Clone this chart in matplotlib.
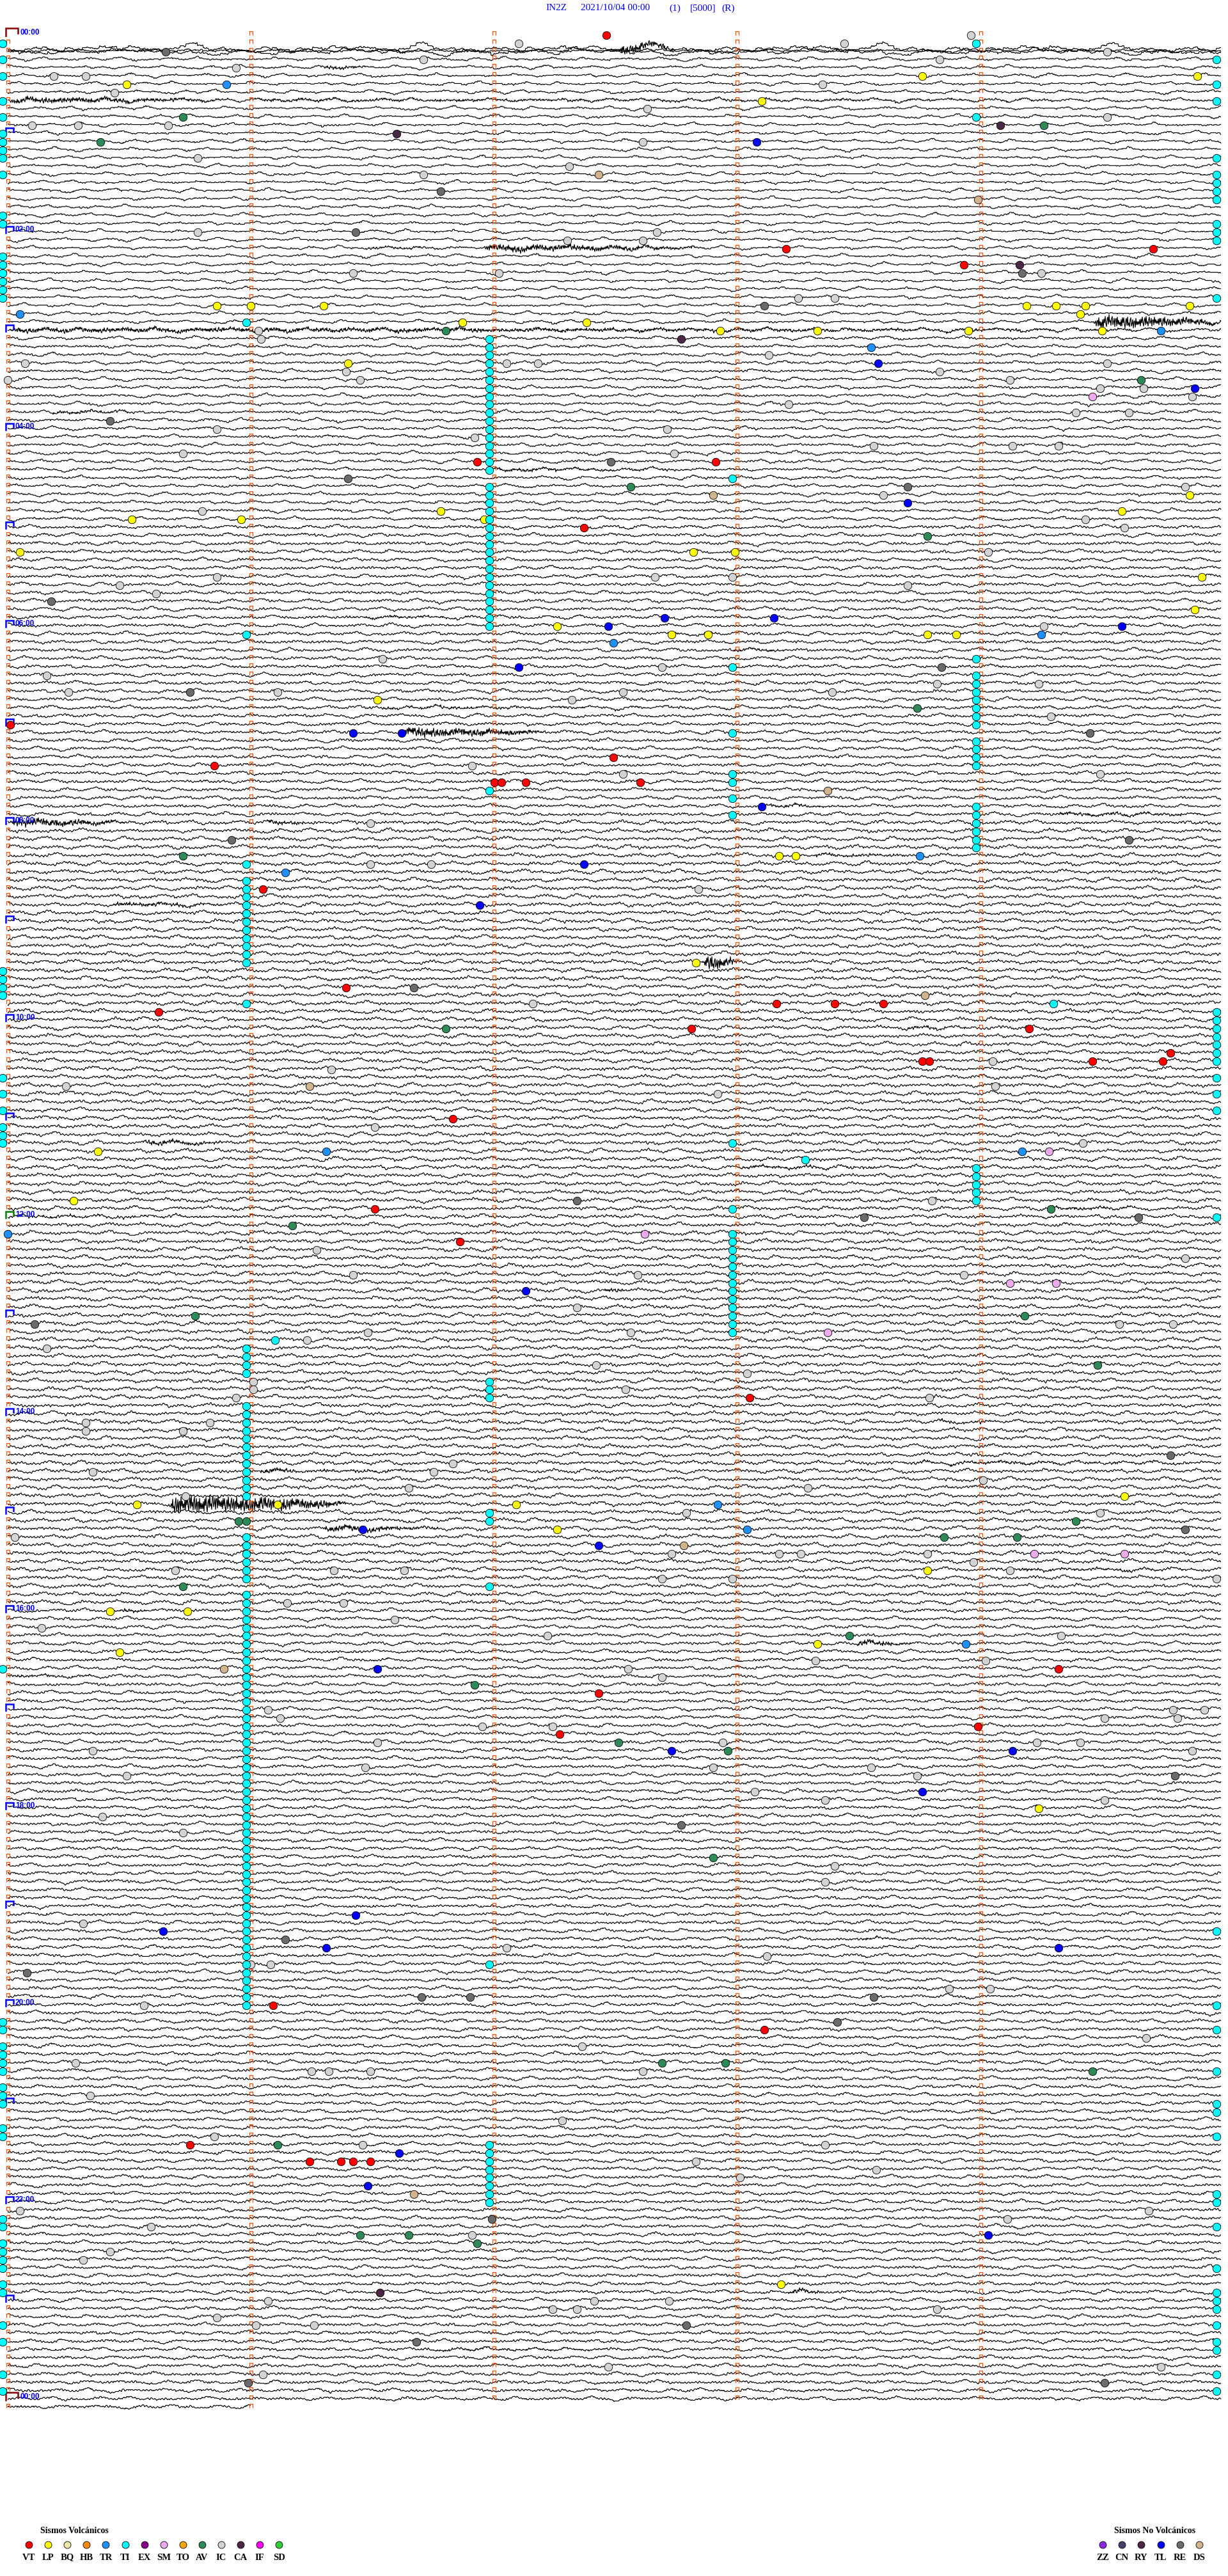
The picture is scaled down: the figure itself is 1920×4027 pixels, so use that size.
import numpy as np
import matplotlib.pyplot as plt
from matplotlib.collections import LineCollection

W, H = 1920, 4027
X0, PXM = 12.0, 380.3      # px del minuto 0 y px por minuto
Y0, PXL = 53.5, 12.833     # px de la linea 0 y px por linea (5 min)
N_LINES = 290


def mx(px):
    return (px - X0) / PXM


def ly(py):
    return (py - Y0) / PXL


# ---- eventos: (linea de 5 minutos, minuto dentro de la linea) ----
vt = [(0, 2.46), (26, 3.20), (26, 4.71), (28, 3.93), (52, 1.93), (52, 2.91), (60, 2.37),
      (84, 0.01), (88, 2.49), (89, 0.85), (91, 2.00), (91, 2.03), (91, 2.13), (91, 2.60),
      (104, 1.05), (116, 1.39), (118, 3.16), (118, 3.40), (118, 3.60), (119, 0.62),
      (121, 2.81), (121, 4.20), (124, 4.78), (125, 3.76), (125, 3.79), (125, 4.46),
      (125, 4.75), (132, 1.83), (143, 1.51), (147, 1.86), (166, 3.05), (199, 4.32),
      (202, 2.43), (206, 3.99), (207, 2.27), (240, 1.09), (243, 3.11), (257, 0.75),
      (259, 1.24), (259, 1.37), (259, 1.42), (259, 1.49)]
lp = [(5, 3.76), (5, 4.89), (6, 0.49), (8, 3.10), (33, 0.86), (33, 1.00), (33, 1.30),
      (33, 4.19), (33, 4.31), (33, 4.43), (33, 4.86), (34, 4.41), (35, 1.87), (35, 2.38),
      (36, 2.93), (36, 3.33), (36, 3.95), (36, 4.50), (40, 1.40), (56, 4.86), (58, 1.78),
      (58, 4.58), (59, 0.51), (59, 0.96), (59, 1.96), (63, 0.05), (63, 2.82), (63, 2.99),
      (66, 4.91), (70, 4.88), (72, 2.26), (73, 2.73), (73, 2.88), (73, 3.78), (73, 3.90),
      (81, 1.52), (100, 3.17), (100, 3.24), (113, 2.83), (136, 0.37), (142, 0.27),
      (178, 4.59), (179, 0.53), (179, 1.11), (179, 2.09), (182, 2.26), (187, 3.78),
      (192, 0.42), (192, 0.74), (196, 3.33), (197, 0.46), (216, 4.24), (274, 3.18)]
tr = [(6, 0.90), (34, 0.05), (36, 4.74), (38, 3.55), (73, 4.25), (74, 2.49), (100, 3.75),
      (102, 1.14), (136, 1.31), (136, 4.17), (146, 0.0), (179, 2.92), (182, 3.04), (196, 3.94)]
tl = [(13, 3.08), (40, 3.58), (43, 4.88), (57, 3.70), (71, 2.70), (71, 3.15), (72, 2.47),
      (72, 4.58), (77, 2.10), (85, 1.42), (85, 1.62), (94, 3.10), (101, 2.37), (106, 1.94),
      (153, 2.13), (182, 1.46), (184, 2.43), (199, 1.52), (209, 2.73), (209, 4.13),
      (214, 3.76), (229, 1.43), (231, 0.64), (233, 1.31), (233, 4.32), (258, 1.61),
      (262, 1.48), (268, 4.03)]
av = [(10, 0.72), (11, 4.26), (13, 0.38), (36, 1.80), (42, 4.66), (55, 2.56), (61, 3.78),
      (82, 3.74), (100, 0.72), (121, 1.80), (143, 4.29), (145, 1.17), (156, 0.77),
      (156, 4.18), (162, 4.48), (181, 0.95), (181, 0.98), (181, 4.39), (183, 3.85),
      (183, 4.15), (189, 0.72), (195, 3.46), (201, 1.92), (208, 2.51), (209, 2.96),
      (222, 2.90), (247, 2.69), (247, 2.95), (248, 4.46), (257, 1.11), (268, 1.45),
      (268, 1.65), (269, 1.93)]
ca = [(11, 4.08), (12, 1.60), (28, 4.16), (37, 2.77), (275, 1.53)]
re = [(2, 0.65), (19, 1.78), (24, 1.43), (29, 4.17), (33, 3.11), (47, 0.42), (52, 2.48),
      (54, 1.40), (55, 3.70), (69, 0.18), (77, 3.84), (80, 0.75), (85, 4.45), (98, 0.92),
      (98, 4.61), (116, 1.67), (142, 2.34), (144, 3.52), (144, 4.65), (157, 0.11),
      (173, 4.78), (182, 4.84), (212, 4.80), (218, 2.77), (232, 1.14), (236, 0.08),
      (239, 1.70), (239, 1.90), (239, 3.56), (242, 3.41), (266, 1.99), (279, 2.79),
      (281, 1.68), (286, 0.99), (286, 4.51)]
ds = [(17, 2.43), (20, 3.99), (56, 2.90), (92, 3.37), (117, 3.77), (128, 1.24), (184, 2.78),
      (199, 0.89), (263, 1.67)]
sm = [(44, 4.46), (136, 4.28), (146, 2.62), (152, 4.12), (152, 4.31), (158, 3.37),
      (185, 4.22), (185, 4.59)]
ic = [(0, 3.96), (1, 2.10), (1, 3.44), (2, 4.52), (3, 1.71), (3, 3.83), (4, 0.94), (5, 0.19),
      (5, 0.32), (6, 3.35), (7, 0.44), (9, 2.63), (10, 4.52), (11, 0.10), (11, 0.29),
      (11, 0.66), (13, 2.61), (15, 0.78), (16, 2.31), (17, 1.71), (24, 0.78), (24, 2.67),
      (25, 2.30), (25, 2.61), (29, 1.42), (29, 2.02), (29, 4.25), (32, 3.25), (32, 3.40),
      (36, 1.03), (37, 1.04), (39, 3.13), (40, 0.07), (40, 2.05), (40, 2.18), (40, 4.52),
      (41, 1.39), (41, 3.83), (42, 0.0), (42, 1.45), (42, 4.12), (43, 4.49), (43, 4.67),
      (44, 4.87), (45, 3.21), (46, 4.39), (46, 4.61), (48, 0.86), (48, 2.71), (49, 1.92),
      (50, 3.56), (50, 4.13), (50, 4.32), (51, 0.72), (51, 2.74), (55, 4.84), (56, 3.60),
      (58, 0.80), (59, 4.43), (60, 4.59), (63, 4.03), (66, 0.86), (66, 2.66), (66, 2.98),
      (67, 0.46), (67, 3.70), (68, 0.61), (72, 4.26), (76, 1.54), (77, 2.69), (78, 0.16),
      (79, 3.82), (79, 4.24), (80, 0.25), (80, 1.11), (80, 2.53), (80, 3.39), (81, 2.32),
      (83, 4.29), (89, 1.91), (90, 2.53), (90, 4.49), (96, 1.49), (101, 1.49), (101, 1.74),
      (104, 2.84), (118, 2.16), (125, 4.05), (126, 1.33), (128, 0.24), (128, 4.06),
      (129, 2.92), (133, 1.51), (135, 4.42), (142, 3.80), (148, 1.27), (149, 4.84),
      (151, 1.42), (151, 2.59), (151, 3.93), (155, 2.34), (157, 4.57), (157, 4.79),
      (158, 1.48), (158, 2.56), (159, 1.23), (160, 0.16), (162, 2.42), (163, 3.04),
      (164, 1.01), (165, 1.01), (165, 2.54), (166, 0.94), (166, 3.79), (169, 0.32),
      (169, 0.83), (170, 0.32), (170, 0.72), (174, 1.83), (175, 0.35), (175, 1.75),
      (176, 4.01), (177, 1.65), (177, 3.29), (178, 0.73), (180, 2.79), (180, 4.49),
      (183, 0.03), (185, 2.73), (185, 3.17), (185, 3.26), (185, 3.78), (186, 3.97),
      (187, 0.69), (187, 1.34), (187, 1.63), (187, 4.12), (188, 2.69), (188, 2.98),
      (188, 4.97), (191, 1.15), (191, 1.38), (193, 1.59), (194, 0.14), (195, 2.22),
      (195, 4.33), (198, 3.32), (198, 4.02), (199, 2.55), (200, 2.69), (204, 1.07),
      (204, 4.79), (204, 4.92), (205, 1.12), (205, 4.51), (205, 4.81), (206, 1.95),
      (206, 2.24), (208, 1.52), (208, 2.94), (208, 4.23), (208, 4.41), (209, 0.35),
      (209, 4.87), (211, 1.47), (211, 2.90), (211, 3.55), (212, 0.49), (212, 3.74),
      (214, 3.07), (215, 3.36), (215, 4.51), (217, 0.39), (219, 0.72), (223, 3.40),
      (225, 3.36), (230, 0.31), (233, 2.05), (234, 3.12), (235, 1.00), (235, 1.08),
      (238, 3.87), (238, 4.04), (240, 0.56), (244, 4.68), (245, 2.36), (247, 0.28),
      (248, 1.25), (248, 1.32), (248, 1.49), (248, 2.61), (251, 0.34), (254, 2.28),
      (256, 0.85), (257, 1.46), (257, 3.36), (259, 2.83), (260, 3.57), (261, 3.01),
      (265, 0.05), (265, 4.69), (266, 4.11), (267, 0.59), (268, 1.91), (270, 0.42),
      (271, 0.31), (276, 1.07), (276, 2.41), (276, 2.72), (277, 2.24), (277, 2.34),
      (277, 3.82), (278, 0.86), (279, 1.02), (279, 1.26), (284, 2.47), (284, 4.74),
      (285, 1.05)]

# TI: columnas casi verticales (tramos de lineas consecutivas)
ti_left = [1, 3, 5, 8, 10, 12, 13, 14, 15, 17, 22, 23, 27, 28, 29, 30, 31, 32, 114, 115, 116,
           117, 127, 129, 131, 133, 134, 135, 199, 242, 243, 245, 246, 247, 248, 250, 251,
           252, 255, 256, 266, 267, 269, 270, 271, 272, 274, 275, 279, 281, 285, 287]
ti_right = [3, 6, 8, 15, 17, 18, 19, 20, 23, 24, 25, 32, 119, 120, 121, 122, 123, 124, 125,
            127, 129, 131, 144, 231, 240, 243, 248, 252, 253, 256, 263, 264, 267, 272, 275,
            276, 277, 279, 281, 282, 285, 287]
ti_runs_m1 = [(35, 35), (73, 73), (101, 101), (103, 113), (118, 118), (160, 163), (167, 178),
              (183, 188), (190, 240)]
ti_runs_m2 = [(37, 53), (55, 72), (92, 92), (164, 166), (180, 181), (189, 189), (235, 235),
              (257, 264)]
ti_runs_m3 = [(54, 54), (77, 77), (85, 85), (90, 91), (93, 93), (95, 95), (135, 135),
              (143, 143), (146, 158)]
ti_runs_m4 = [(1, 1), (10, 10), (76, 76), (78, 84), (86, 89), (94, 99), (138, 142)]
ti_other = [(118, 4.30), (137, 3.28), (159, 1.10)]

# plantillas de forma de onda (px)
swell_tpl = [0, 0, 1, 1, 2, 2, 2, 1, 1, 1, 0, 0, 0, -1, -1, -1, -2, -1, -1, 0,
             0, 0, 1, 1, 1, 1, 0, 0, -1, -1, -2, -3, -3, -2, -1, 0, 0, 0, 1, 0]
dip_tpl = [0, 0, 0, 1, 1, 1, 0, 0, -1, -1, 0, 0, 0, 0, 1, 1, 2, 3, 2, 1, 0, 0, -1, 0,
           0, 0, 1, 1, 0, 0, 0, -1, -1, -1, 0, 0, 0, 1, 0, 0, 0, -1, 0]
ripple_tpl = [0, 1, 0, 0, -1, 0, 1, 1, 0, -1, -1, 0, 1, 0, 0, -1, 0, 1, 2, 1, 0, -1, 0, 0,
              1, 0, -1, -1, 0, 1, 1, 0, -1, -1, 0, 1, 0]
hf_tpl = [0, 3, -2, 4, -3, 1, -4, 2, 5, -1, -3, 3, -5, 2, 0, 4, -2, -4, 3, 1, -3, 5, -1, -2,
          4, -4, 2, -1, 3]
noise_by_hour = [0.45, 0.5, 0.5, 0.55, 0.55, 0.6, 0.65, 0.7, 0.9, 0.9, 0.85, 0.9, 0.9, 0.85,
                 0.85, 0.8, 0.7, 0.65, 0.6, 0.6, 0.65, 0.65, 0.65, 0.6]

# rafagas de ruido / sismos: linea, minuto inicio, minuto fin, amplitud px
burst_line = [0, 4, 8, 8, 26, 26, 35, 36, 46, 53, 71, 75, 82, 85, 94, 95, 96, 96, 100, 106,
              113, 117, 121, 135, 138, 143, 144, 153, 169, 174, 175, 175, 179, 182, 187, 192,
              196, 200, 232, 275, 282]
burst_m0 = [2.5, 1.29, 0.0, 1.0, 1.45, 1.95, 4.46, 0.0, 0.17, 1.98, 1.45, 2.97, 1.52, 1.62,
            3.10, 4.3, 0.0, 1.05, 3.3, 0.42, 2.85, 4.6, 3.68, 0.55, 3.0, 4.28, 0.0, 2.44, 3.8,
            3.7, 1.03, 1.2, 0.66, 1.29, 4.15, 0.45, 3.48, 0.0, 3.5, 3.2, 1.7]
burst_m1 = [2.75, 1.48, 0.95, 5.0, 1.95, 2.85, 5.0, 5.0, 0.55, 2.87, 1.98, 3.22, 3.05, 2.22,
            3.50, 5.0, 0.5, 1.25, 3.7, 0.93, 3.0, 5.0, 4.0, 0.9, 3.98, 4.7, 1.28, 2.56, 4.12,
            5.0, 1.2, 1.93, 1.4, 1.8, 5.0, 0.58, 3.72, 0.42, 3.78, 3.36, 2.62]
burst_amp = [7, 2.5, 4, 1.5, 1.5, 5, 10, 3, 2, 1.8, 1.5, 2, 1.3, 7, 1.5, 2, 6, 3, 2, 2.5,
             12, 1.5, 1.5, 3, 1.2, 1.5, 1.2, 3, 1.5, 1.5, 4, 1.2, 14, 4, 1.5, 2.5, 4, 1.5,
             1.5, 3.5, 1.3]

# lineas iniciales desplazadas con onda larga
slow_lines = [0, 1]
slow_amp = [3.0, 2.4]
slow_shift = [24, 13]

vol_codes = ["VT", "LP", "BQ", "HB", "TR", "TI", "EX", "SM", "TO", "AV", "IC", "CA", "IF", "SD"]
vol_colors = ["#ff0000", "#ffff00", "#eee8aa", "#ff8c00", "#1e90ff", "#00ffff", "#8b008b",
              "#eeaaee", "#ffa500", "#2e8b57", "#d3d3d3", "#4b2848", "#ff00ff", "#32cd32"]
nov_codes = ["ZZ", "CN", "RY", "TL", "RE", "DS"]
nov_colors = ["#8a2be2", "#483d6b", "#4b2848", "#0000ff", "#6b6b6b", "#d2b48c"]

fig = plt.figure(figsize=(W / 100, H / 100), dpi=100)
ax = fig.add_axes([0, 0, 1, 1])
ax.set_xlim(mx(0), mx(W))
ax.set_ylim(ly(H), ly(0))
ax.axis('off')

swell = np.array(swell_tpl, float)
dip = np.array(dip_tpl, float)
ripple = np.array(ripple_tpl, float)
hf = np.array(hf_tpl, float) / 5.0
bl = np.array(burst_line)

xs = np.arange(0, 1898)
segs = []
for L in range(N_LINES):
    x = xs if L < N_LINES - 1 else xs[:381]
    h = min(L // 12, 23)
    y = 0.9 * swell[((x + L * 53) // 3) % 40] + 0.9 * dip[((x + L * 71) // 4) % 43]
    y = y + noise_by_hour[h] * ripple[(x + L * 13) % 37]
    if L in slow_lines:
        k = slow_lines.index(L)
        y = y + slow_amp[k] * swell[((x + L * 90) // 9) % 40] + slow_shift[k]
    m = x / PXM
    for i in np.where(bl == L)[0]:
        a, b = burst_m0[i], burst_m1[i]
        env = np.clip((m - a) / 0.03, 0, 1) * np.clip((b - m) / (b - a), 0, 1) ** 0.5
        env[(m < a) | (m > b)] = 0
        y = y + burst_amp[i] * env * hf[(x + i * 5) % 29]
    segs.append(np.column_stack([m, L + np.round(y) / PXL]))
ax.add_collection(LineCollection(segs, colors='black', linewidths=0.85))

# marcas de minuto
mk = []
for L in range(N_LINES):
    kmax = 5 if L < N_LINES - 1 else 2
    for k in range(kmax):
        if k == 0 and L % 12 == 0:
            continue
        x1, x2 = k - 2.5 / PXM, k + 2.5 / PXM
        yb, yt = L + 1.5 / PXL, L - 4.5 / PXL
        mk.append([(x1, yb), (x1, yt), (x2, yt), (x2, yb)])
ax.add_collection(LineCollection(mk, colors='#ff4d00', linewidths=0.9))

# marcas y etiquetas de hora
for hh in range(25):
    L = hh * 12
    if hh % 24 == 0:
        col, w, hgt = '#8b0000', 19, 9
    elif hh == 12:
        col, w, hgt = '#008000', 12, 7
    else:
        col, w, hgt = '#0000ff', 12, 7
    x1, x2 = mx(X0 - 3), mx(X0 - 3 + w)
    ax.plot([x1, x1, x2, x2], [L + 3 / PXL, L - hgt / PXL, L - hgt / PXL, L - 1 / PXL],
            color=col, lw=1.8, solid_joinstyle='miter')
    if hh % 2 == 0:
        ax.text(mx(X0 + w), L - 2.5 / PXL, f"{hh % 24:02d}:00", color='#0000ff', fontsize=8.5,
                fontweight='bold', family=['Liberation Sans', 'DejaVu Sans'],
                ha='left', va='center')

# eventos
groups = [(vt, "#ff0000"), (lp, "#ffff00"), (tr, "#1e90ff"), (tl, "#0000ff"),
          (av, "#2e8b57"), (ca, "#4b2848"), (re, "#6b6b6b"), (ds, "#d2b48c"),
          (sm, "#eeaaee"), (ic, "#d3d3d3")]
ti = [(L, -0.02) for L in ti_left] + [(L, 4.97) for L in ti_right] + ti_other
for runs, mm in [(ti_runs_m1, 0.98), (ti_runs_m2, 1.98), (ti_runs_m3, 2.98), (ti_runs_m4, 3.98)]:
    for a, b in runs:
        ti += [(L, mm) for L in range(a, b + 1)]
groups.append((ti, "#00ffff"))
for ev, col in groups:
    arr = np.array(ev, float)
    ax.scatter(arr[:, 1], arr[:, 0] + 1.5 / PXL, s=80, c=col, edgecolors='black',
               linewidths=0.6, zorder=5)

# titulo
serif = ['Liberation Serif', 'DejaVu Serif']
for px, txt in [(853, "IN2Z"), (908, "2021/10/04 00:00"), (1046, "(1)"), (1079, "[5000]"),
                (1128, "(R)")]:
    fig.text(px / W, 1 - 13 / H, txt, color='#0000ff', fontsize=11, family=serif,
             ha='left', va='center')

# leyendas
fig.text(63 / W, 1 - 3957 / H, "Sismos Volcánicos", fontsize=10, fontweight='bold',
         family=serif, ha='left', va='center')
for i, (c, col) in enumerate(zip(vol_codes, vol_colors)):
    px = 45 + 30.1 * i
    ax.scatter([mx(px)], [ly(3978)], s=62, c=col, edgecolors='black', linewidths=0.6)
    fig.text(px / W, 1 - 3998 / H, c, fontsize=10.5, fontweight='bold', family=serif,
             ha='center', va='center')
fig.text(1806 / W, 1 - 3957 / H, "Sismos No Volcánicos", fontsize=10, fontweight='bold',
         family=serif, ha='center', va='center')
for i, (c, col) in enumerate(zip(nov_codes, nov_colors)):
    px = 1724 + 30.2 * i
    ax.scatter([mx(px)], [ly(3978)], s=62, c=col, edgecolors='black', linewidths=0.6)
    fig.text(px / W, 1 - 3998 / H, c, fontsize=10.5, fontweight='bold', family=serif,
             ha='center', va='center')

fig.savefig('out.png', dpi=100)
